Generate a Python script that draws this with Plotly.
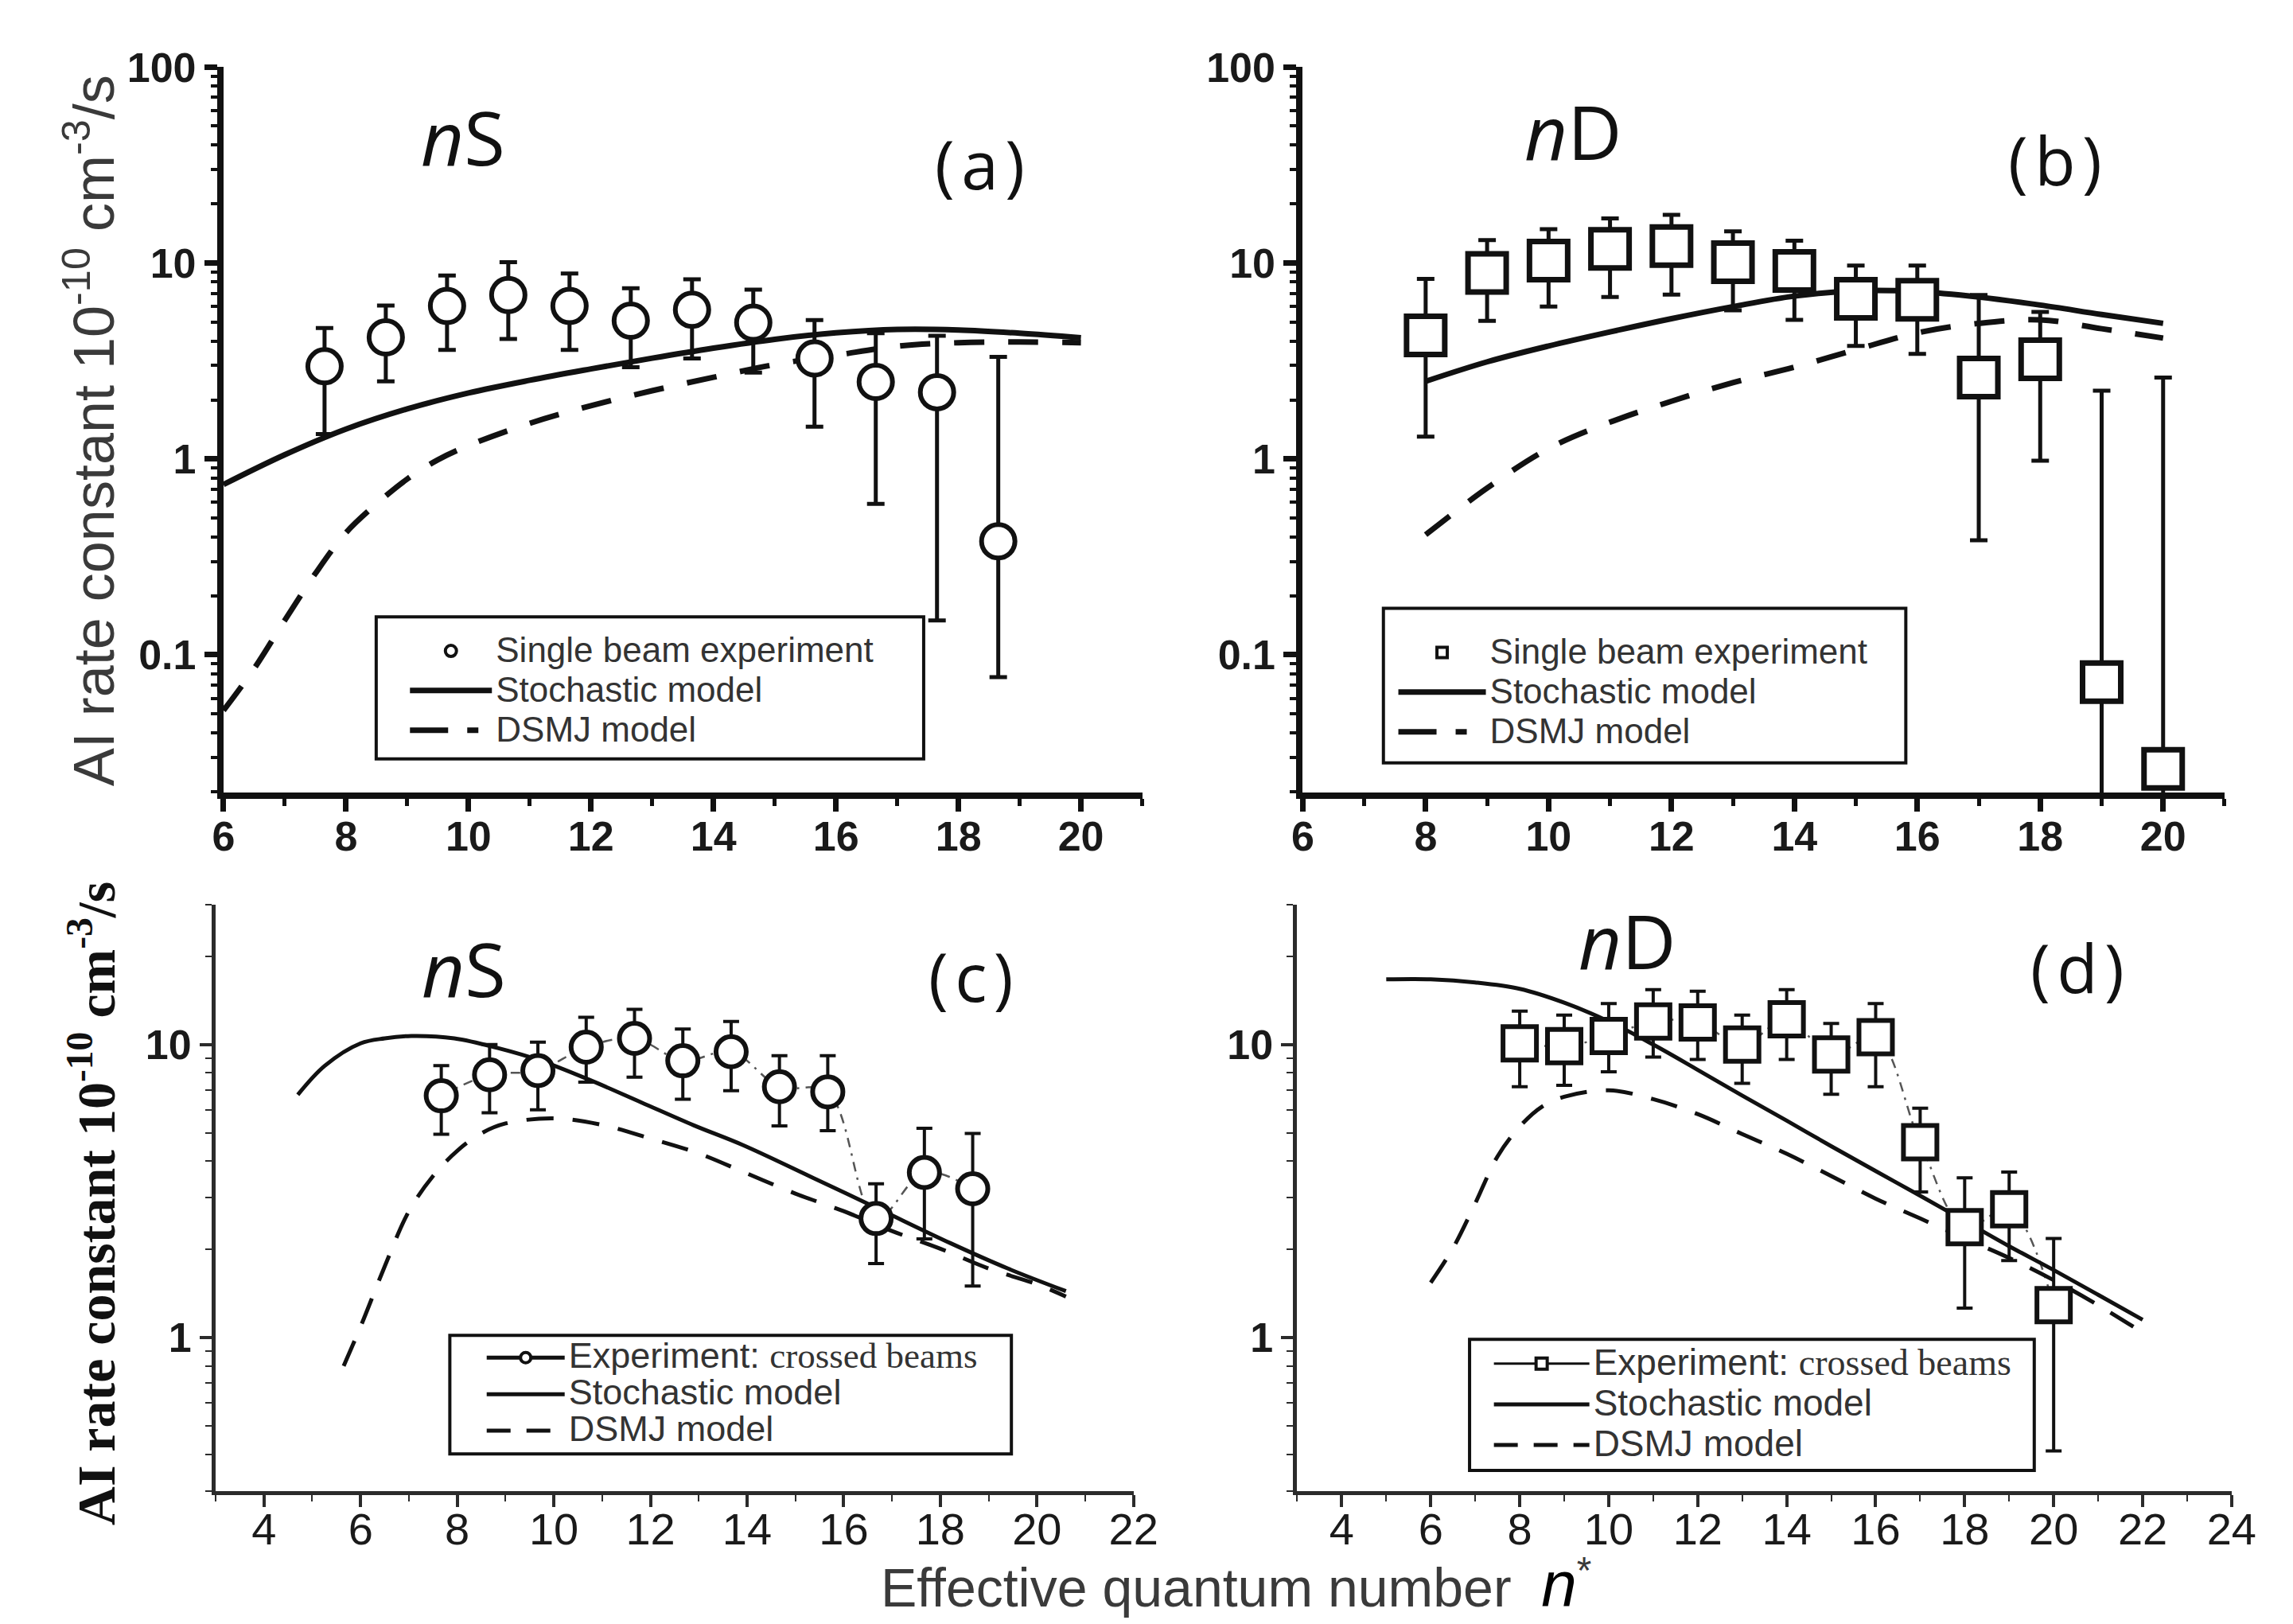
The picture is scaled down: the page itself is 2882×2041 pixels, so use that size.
import math
import plotly.graph_objects as go

# ---------------- dados ----------------
# (a) nS - experimento de feixe unico
a_n = [7.65, 8.65, 9.65, 10.65, 11.65, 12.65, 13.65, 14.65, 15.65, 16.65, 17.65, 18.65]
a_k = [2.97, 4.17, 6.04, 6.87, 6.04, 5.08, 5.78, 4.96, 3.26, 2.47, 2.19, 0.38]
a_sup = [4.66, 6.07, 8.63, 10.1, 8.84, 7.44, 8.26, 7.31, 5.11, 4.38, 4.25, 3.32]
a_inf = [1.34, 2.49, 3.60, 4.10, 3.60, 2.94, 3.26, 2.76, 1.46, 0.59, 0.15, 0.077]
a_estoc_n = [6, 7, 8, 9, 10, 11, 12, 13, 14, 15, 16, 17, 18, 19, 20]
a_estoc_k = [0.74, 1.05, 1.42, 1.80, 2.17, 2.52, 2.88, 3.27, 3.68, 4.08, 4.40, 4.58, 4.55, 4.38, 4.15]
a_dsmj_n = [6, 6.5, 7, 7.5, 8, 8.5, 9, 9.5, 10, 11, 12, 13, 14, 15, 16, 17, 18, 19, 20]
a_dsmj_k = [0.052, 0.085, 0.15, 0.26, 0.42, 0.59, 0.79, 0.99, 1.17, 1.52, 1.87, 2.23, 2.61, 3.03, 3.38, 3.76, 3.92, 3.95, 3.92]

# (b) nD - experimento de feixe unico
b_n = [8, 9, 10, 11, 12, 13, 14, 15, 16, 17, 18, 19, 20]
b_k = [4.27, 8.9, 10.3, 11.8, 12.2, 10.1, 9.12, 6.57, 6.49, 2.60, 3.23, 0.0726, 0.0262]
b_sup = [8.3, 13.1, 14.9, 16.9, 17.6, 14.5, 13.0, 9.7, 9.7, 6.86, 5.63, 2.23, 2.6]
b_inf = [1.30, 5.07, 5.99, 6.70, 6.90, 5.74, 5.13, 3.77, 3.44, 0.384, 0.98, 0.005, 0.005]
b_estoc_n = [8, 9, 10, 11, 12, 13, 14, 15, 16, 17, 18, 19, 20]
b_estoc_k = [2.49, 3.13, 3.77, 4.45, 5.2, 5.99, 6.78, 7.21, 7.14, 6.7, 6.1, 5.46, 4.92]
b_dsmj_n = [8, 9, 10, 11, 12, 13, 14, 15, 16, 17, 18, 19, 20]
b_dsmj_k = [0.41, 0.71, 1.13, 1.54, 1.97, 2.45, 2.94, 3.61, 4.4, 4.92, 5.13, 4.62, 4.14]

# (c) nS - feixes cruzados
c_n = [7.67, 8.67, 9.67, 10.67, 11.67, 12.67, 13.67, 14.67, 15.67, 16.67, 17.67, 18.67]
c_k = [6.69, 7.89, 8.15, 9.8, 10.5, 8.81, 9.46, 7.18, 6.9, 2.55, 3.66, 3.22]
c_sup = [8.47, 10.0, 10.2, 12.4, 13.2, 11.3, 12.0, 9.17, 9.17, 3.35, 5.18, 4.97]
c_inf = [4.94, 5.85, 5.99, 7.44, 7.74, 6.51, 6.96, 5.28, 5.08, 1.79, 2.17, 1.50]
c_estoc_n = [4.7, 5.26, 6.0, 6.5, 7.05, 7.94, 8.84, 9.73, 10.73, 11.81, 12.9, 13.9, 15.38, 16.72, 18.21, 19.4, 20.6]
c_estoc_k = [6.74, 8.47, 10.1, 10.5, 10.7, 10.5, 9.73, 8.81, 7.59, 6.35, 5.3, 4.55, 3.5, 2.75, 2.1, 1.72, 1.44]
c_dsmj_n = [5.65, 6.0, 6.5, 7.0, 7.5, 8.0, 8.5, 9.0, 10, 11, 12, 13, 14, 15, 16, 17, 18, 19, 20, 20.6]
c_dsmj_k = [0.80, 1.09, 1.75, 2.70, 3.56, 4.34, 4.98, 5.38, 5.6, 5.32, 4.78, 4.25, 3.63, 3.10, 2.70, 2.31, 2.01, 1.72, 1.52, 1.38]

# (d) nD - feixes cruzados
d_n = [8, 9, 10, 11, 12, 13, 14, 15, 16, 17, 18, 19, 20]
d_k = [10.1, 9.88, 10.7, 12.0, 11.9, 10.0, 12.2, 9.25, 10.6, 4.64, 2.38, 2.74, 1.29]
d_sup = [13.0, 12.6, 13.8, 15.4, 15.2, 12.6, 15.4, 11.8, 13.8, 6.07, 3.51, 3.67, 2.18]
d_inf = [7.18, 7.26, 8.07, 9.07, 8.9, 7.38, 8.9, 6.77, 7.18, 3.14, 1.26, 1.83, 0.41]
d_estoc_n = [5, 6, 7, 8, 9, 10, 11, 12, 13, 14, 15, 16, 17, 18, 19, 20, 21, 22]
d_estoc_k = [16.7, 16.7, 16.3, 15.5, 13.9, 12.0, 10.0, 8.2, 6.7, 5.5, 4.5, 3.7, 3.05, 2.5, 2.05, 1.7, 1.4, 1.15]
d_dsmj_n = [6, 6.5, 7, 7.5, 8, 8.5, 9, 10, 11, 12, 13, 14, 15, 16, 17, 18, 19, 20, 21, 22]
d_dsmj_k = [1.54, 2.02, 2.87, 4.15, 5.25, 6.14, 6.64, 6.98, 6.51, 5.79, 4.95, 4.24, 3.56, 2.98, 2.55, 2.18, 1.87, 1.57, 1.29, 1.04]

# marcas dos eixos
ticks_x_topo = [6, 8, 10, 12, 14, 16, 18, 20]
ticks_x_c = [4, 6, 8, 10, 12, 14, 16, 18, 20, 22]
ticks_x_d = [4, 6, 8, 10, 12, 14, 16, 18, 20, 22, 24]
ticks_y_topo = [0.1, 1, 10, 100]
rotulos_y_topo = ["0.1", "1", "10", "100"]
ticks_y_baixo = [1, 10]
rotulos_y_baixo = ["1", "10"]

# ---------------- estilo ----------------
W, H = 2882, 2041
SANS = "Liberation Sans, Arial, Helvetica, sans-serif"
SERIF = "Liberation Serif, Times New Roman, serif"
ROTULO = "Open Sans, Noto Sans, sans-serif"

fig = go.Figure()


def sufixo(i):
    return "" if i == 1 else str(i)


def eixos(i, px_x, px_y, xr, yr, xt, yt, yt_txt, lw, cor, tl, tw, fonte_x, fonte_y, recuo_x):
    s = sufixo(i)
    dom_x = [px_x[0] / W, px_x[1] / W]
    dom_y = [1 - px_y[1] / H, 1 - px_y[0] / H]
    yr_log = [math.log10(yr[0]), math.log10(yr[1])]
    comum = dict(showline=True, linewidth=lw, linecolor=cor, tickcolor=cor, ticklen=tl,
                 tickwidth=tw, showgrid=False, zeroline=False)
    menor_x = dict(dtick=1, tick0=0, ticklen=round(tl * 0.55), tickwidth=max(2, tw - 2),
                   tickcolor=cor, showgrid=False)
    menor_y = dict(dtick="D1", ticklen=round(tl * 0.5), tickwidth=max(2, tw - 3),
                   tickcolor=cor, showgrid=False)
    fig.update_layout({
        f"xaxis{s}": dict(domain=dom_x, range=list(xr), anchor=f"y{s}", ticks="outside",
                          tickmode="array", tickvals=xt, ticktext=[str(v) for v in xt],
                          ticklabelstandoff=recuo_x,
                          tickfont=fonte_x, minor=dict(menor_x, ticks="outside"), **comum),
        f"yaxis{s}": dict(domain=dom_y, type="log", range=yr_log, anchor=f"x{s}", ticks="outside",
                          tickmode="array", tickvals=yt, ticktext=yt_txt,
                          tickfont=fonte_y, minor=dict(menor_y, ticks="outside"), **comum),
        # lados de cima e da direita com marcas para dentro
        f"xaxis{i + 4}": dict(overlaying=f"x{s}", anchor=f"y{s}", side="top", range=list(xr),
                              ticks="inside", tickmode="array", tickvals=xt, showticklabels=False,
                              minor=dict(menor_x, ticks="inside"), **comum),
        f"yaxis{i + 4}": dict(overlaying=f"y{s}", anchor=f"x{s}", side="right", type="log",
                              range=yr_log, ticks="inside", tickmode="array", tickvals=yt,
                              showticklabels=False, minor=dict(menor_y, ticks="inside"), **comum),
    })


def curva(i, x, y, largura, cor, dash="solid"):
    s = sufixo(i)
    fig.add_trace(go.Scatter(x=x, y=y, mode="lines", xaxis=f"x{s}", yaxis=f"y{s}",
                             line=dict(color=cor, width=largura, dash=dash, shape="spline"),
                             showlegend=False, hoverinfo="skip"))


def pontos(i, x, y, sup, inf, simbolo, tam, lw_m, eb_t, eb_w, cor):
    s = sufixo(i)
    mais = [a - v for v, a in zip(y, sup)]
    menos = [v - b for v, b in zip(y, inf)]
    fig.add_trace(go.Scatter(
        x=x, y=y, mode="markers", xaxis=f"x{s}", yaxis=f"y{s}", showlegend=False,
        marker=dict(symbol=simbolo, size=tam, color="white", line=dict(color=cor, width=lw_m)),
        error_y=dict(type="data", symmetric=False, array=mais, arrayminus=menos,
                     thickness=eb_t, width=eb_w, color=cor)))


def entrada(i, nome, legenda, **estilo):
    # item so de legenda (sem dados desenhados)
    s = sufixo(i)
    fig.add_trace(go.Scatter(x=[None], y=[None], xaxis=f"x{s}", yaxis=f"y{s}", name=nome,
                             legend=legenda, showlegend=True, **estilo))


PRETO = "#111111"
CINZA = "#2b2b2b"

# ======================
# (a) e (b): feixe unico
# ======================
fonte_topo = dict(family=SANS, size=52, color="#1a1a1a", weight="bold")
eixos(1, (263, 1436), (48, 973), (6, 21), (0.0198, 100), ticks_x_topo, ticks_y_topo,
      rotulos_y_topo, 8, PRETO, 16, 7, fonte_topo, fonte_topo, -14)
eixos(2, (1641, 2818), (48, 973), (6, 21), (0.0198, 100), ticks_x_topo, ticks_y_topo,
      rotulos_y_topo, 8, PRETO, 16, 7, fonte_topo, fonte_topo, -14)

curva(1, a_dsmj_n, a_dsmj_k, 7, PRETO, "38px,30px")
curva(1, a_estoc_n, a_estoc_k, 7, PRETO)
pontos(1, a_n, a_k, a_sup, a_inf, "circle", 42, 6, 5, 11, PRETO)

curva(2, b_dsmj_n, b_dsmj_k, 7, PRETO, "38px,30px")
curva(2, b_estoc_n, b_estoc_k, 7, PRETO)
pontos(2, b_n, b_k, b_sup, b_inf, "square", 48, 7, 5, 11, PRETO)

# ======================
# (c) e (d): feixes cruzados
# ======================
fonte_x_baixo = dict(family=SANS, size=56, color="#1a1a1a")
fonte_y_baixo = dict(family=SANS, size=52, color="#1a1a1a", weight="bold")
eixos(3, (253, 1425), (1116, 1863), (3, 22), (0.3, 30), ticks_x_c, ticks_y_baixo,
      rotulos_y_baixo, 5, CINZA, 15, 4, fonte_x_baixo, fonte_y_baixo, -20)
eixos(4, (1634, 2827), (1116, 1863), (3, 24), (0.3, 30), ticks_x_d, ticks_y_baixo,
      rotulos_y_baixo, 5, CINZA, 15, 4, fonte_x_baixo, fonte_y_baixo, -20)

curva(3, c_n, c_k, 2.5, "#555555", "12px,8px,3px,8px")
curva(3, c_dsmj_n, c_dsmj_k, 5, PRETO, "34px,24px")
curva(3, c_estoc_n, c_estoc_k, 5, PRETO)
pontos(3, c_n, c_k, c_sup, c_inf, "circle", 38, 6, 4, 10, PRETO)

curva(4, d_n, d_k, 2.5, "#555555", "12px,8px,3px,8px")
curva(4, d_dsmj_n, d_dsmj_k, 5, PRETO, "34px,24px")
curva(4, d_estoc_n, d_estoc_k, 5, PRETO)
pontos(4, d_n, d_k, d_sup, d_inf, "square", 42, 6, 4, 10, PRETO)

# ======================
# legendas
# ======================
def txt(t, tam):
    return f'<span style="font-size:{tam}px">{t}</span>'


cruzado = 'Experiment: <span style="font-family:Liberation Serif, Times New Roman, serif">crossed beams</span>'

entrada(1, txt("Single beam experiment", 44), "legend", mode="markers",
        marker=dict(symbol="circle", size=14, color="white", line=dict(color=PRETO, width=4)))
entrada(1, txt("Stochastic model", 44), "legend", mode="lines", line=dict(color=PRETO, width=7))
entrada(1, txt("DSMJ model", 44), "legend", mode="lines",
        line=dict(color=PRETO, width=7, dash="48px,24px,14px,200px"))

entrada(2, txt("Single beam experiment", 44), "legend2", mode="markers",
        marker=dict(symbol="square", size=13, color="white", line=dict(color=PRETO, width=4)))
entrada(2, txt("Stochastic model", 44), "legend2", mode="lines", line=dict(color=PRETO, width=7))
entrada(2, txt("DSMJ model", 44), "legend2", mode="lines",
        line=dict(color=PRETO, width=7, dash="48px,24px,14px,200px"))

entrada(3, txt(cruzado, 45), "legend3", mode="lines+markers",
        line=dict(color=PRETO, width=5),
        marker=dict(symbol="circle", size=13, color="white", line=dict(color=PRETO, width=4)))
entrada(3, txt("Stochastic model", 45), "legend3", mode="lines", line=dict(color=PRETO, width=5))
entrada(3, txt("DSMJ model", 45), "legend3", mode="lines",
        line=dict(color=PRETO, width=5, dash="30px,20px"))

entrada(4, txt(cruzado, 46), "legend4", mode="lines+markers",
        line=dict(color=PRETO, width=3),
        marker=dict(symbol="square", size=14, color="white", line=dict(color=PRETO, width=4)))
entrada(4, txt("Stochastic model", 46), "legend4", mode="lines", line=dict(color=PRETO, width=5))
entrada(4, txt("DSMJ model", 46), "legend4", mode="lines",
        line=dict(color=PRETO, width=5, dash="30px,20px"))

# caixas das legendas (px da imagem)
caixas = [(458, 749, 1157, 930, 4), (1744, 738, 2411, 935, 4),
          (552, 1665, 1269, 1816, 4), (1854, 1670, 2575, 1837, 4)]
formas = []
for x0, y0, x1, y1, lw in caixas:
    formas.append(dict(type="rect", xref="paper", yref="paper", layer="above",
                       x0=x0 / W, x1=x1 / W, y0=1 - y1 / H, y1=1 - y0 / H,
                       line=dict(color=PRETO, width=lw), fillcolor="rgba(0,0,0,0)"))


def legenda(x_px, y_px, tam, largura_item):
    return dict(x=x_px / W, y=1 - y_px / H, xanchor="left", yanchor="top",
                bgcolor="rgba(0,0,0,0)", borderwidth=0, itemwidth=largura_item,
                font=dict(family=SANS, size=tam, color="#333333"),
                tracegroupgap=0, itemclick=False, itemdoubleclick=False)


# ======================
# textos
# ======================
anot = []
rotulos_painel = [
    ("<i>n</i>S", 569, 137, 94), ("(&#8202;a&#8202;)", 1229, 171, 84),
    ("<i>n</i>D", 1986, 130, 94), ("(&#8202;b&#8202;)", 2602, 166, 84),
    ("<i>n</i>S", 570, 1197, 94), ("(&#8202;c&#8202;)", 1218, 1207, 84),
    ("<i>n</i>D", 2055, 1162, 94), ("(&#8202;d&#8202;)", 2630, 1195, 84),
]
for texto, xp, yp, tam in rotulos_painel:
    anot.append(dict(text=texto, x=xp / W, y=1 - yp / H, xref="paper", yref="paper",
                     showarrow=False, xanchor="center", yanchor="middle",
                     font=dict(family=ROTULO, size=tam, color="#111111")))

anot.append(dict(text="AI rate constant 10<sup>-10</sup> cm<sup>-3</sup>/s", textangle=-90,
                 x=92 / W, y=1 - 512 / H, xref="paper", yref="paper", showarrow=False,
                 xanchor="center", yanchor="middle",
                 font=dict(family=SANS, size=72, color="#3a3a3a")))
anot.append(dict(text="AI rate constant 10<sup>-10</sup> cm<sup>-3</sup>/s", textangle=-90,
                 x=96 / W, y=1 - 1497 / H, xref="paper", yref="paper", showarrow=False,
                 xanchor="center", yanchor="middle",
                 font=dict(family=SERIF, size=68, color="#111111", weight="bold")))
anot.append(dict(text="Effective quantum number  <i><span style='color:#000000;font-size:80px'>n</span></i><sup>*</sup>",
                 x=1556 / W, y=1 - 1983 / H, xref="paper", yref="paper", showarrow=False,
                 xanchor="center", yanchor="middle",
                 font=dict(family=SANS, size=68, color="#3a3a3a")))

fig.update_layout(
    autosize=False,
    width=W,
    height=H,
    margin=dict(l=0, r=0, t=0, b=0),
    paper_bgcolor="white",
    plot_bgcolor="white",
    shapes=formas,
    annotations=anot,
    legend=legenda(496, 762, 36, 103),
    legend2=legenda(1758, 764, 36, 110),
    legend3=legenda(594, 1665, 33, 98),
    legend4=legenda(1880, 1670, 37, 120),
)

fig.write_html("out.html")
